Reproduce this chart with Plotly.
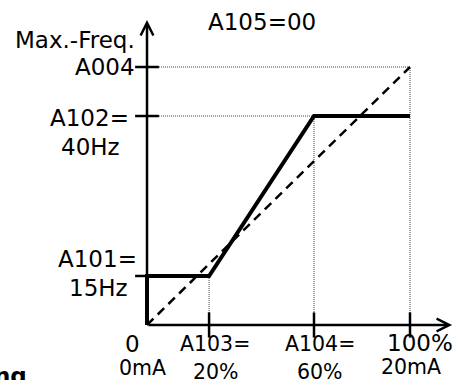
import plotly.graph_objects as go

FONT = "DejaVu Sans"
INK = "black"
BIG = 23
SMALL = 20.5

# positions as drawn on the sketch (input in % of span, frequency in % of A004)
input_pos = [0, 23.6, 63.5, 100]          # 0, A103, A104, 100 %
freq_pos = [19, 81, 100]                  # A101, A102, A004
output_x = [0, 0, 23.6, 63.5, 100]        # characteristic with A105=00
output_y = [0, 19, 19, 81, 81]
linear_x = [0, 100]
linear_y = [0, 100]
axis_end_x = 116
axis_end_y = 118.2

# pixel geometry of the diagram
W, H = 456, 380
X0_PX, X100_PX = 147, 410
Y0_PX, Y100_PX = 325, 67
sx = (X100_PX - X0_PX) / 100
sy = (Y0_PX - Y100_PX) / 100

fig = go.Figure()

# dotted guide lines: A004 box, A102 corner, A103 drop
gx = [input_pos[0], input_pos[3], input_pos[3], None,
      input_pos[0], input_pos[2], input_pos[2], None,
      input_pos[1], input_pos[1]]
gy = [freq_pos[2], freq_pos[2], 0, None,
      freq_pos[1], freq_pos[1], 0, None,
      freq_pos[0], 0]
fig.add_trace(go.Scatter(x=gx, y=gy, mode="lines", hoverinfo="skip",
                         line=dict(color="#444", width=1, dash="1px,1px")))

fig.add_trace(go.Scatter(x=linear_x, y=linear_y, mode="lines",
                         line=dict(color=INK, width=2.5, dash="9px,6px")))
fig.add_trace(go.Scatter(x=output_x, y=output_y, mode="lines",
                         line=dict(color=INK, width=4)))

# tick marks
fig.add_trace(go.Scatter(x=[0] * len(freq_pos), y=freq_pos, mode="markers",
                         marker=dict(symbol="line-ew", size=17, line=dict(color=INK, width=2.5))))
fig.add_trace(go.Scatter(x=input_pos[1:], y=[0] * 3, mode="markers",
                         marker=dict(symbol="line-ns", size=18, line=dict(color=INK, width=2.5))))

# axes with open arrow heads
for tip, tail in [((axis_end_x, 0), (0, 0)), ((0, axis_end_y), (0, 0))]:
    fig.add_annotation(x=tip[0], y=tip[1], ax=tail[0], ay=tail[1], axref="x", ayref="y",
                       text="", showarrow=True, arrowhead=5, arrowsize=1, arrowwidth=2.5,
                       arrowcolor=INK)


def label(text, x, y, dx, dy, size=BIG, anchor="center"):
    fig.add_annotation(x=x, y=y, text=text, showarrow=False, xanchor=anchor, yanchor="middle",
                       xshift=dx, yshift=dy, font=dict(family=FONT, size=size, color=INK))


label("Max.-Freq.", 0, 100, -10, 27, anchor="right")
label("A004", 0, 100, -10, 0, anchor="right")
label("A102=", 0, 81, -58, -2)
label("40Hz", 0, 81, -57, -31)
label("A101=", 0, 19, -50, 17)
label("15Hz", 0, 19, -49, -12)
label("0", 0, 0, -15, -19, size=BIG)
label("0mA", 0, 0, -5, -43, size=SMALL)
label("A103=", input_pos[1], 0, 6, -19, size=SMALL)
label("20%", input_pos[1], 0, 7, -47, size=SMALL)
label("A104=", input_pos[2], 0, 6, -19, size=SMALL)
label("60%", input_pos[2], 0, 6, -47, size=SMALL)
label("100%", input_pos[3], 0, 10, -18, size=BIG)
label("20mA", input_pos[3], 0, 1, -42, size=SMALL)

fig.add_annotation(x=262 / W, y=1 - 22 / H, xref="paper", yref="paper", text="A105=00",
                   showarrow=False, xanchor="center", yanchor="middle",
                   font=dict(family=FONT, size=BIG, color=INK))
# fragment of the heading that sits below the diagram
fig.add_annotation(x=0, y=1 - 361 / H, xref="paper", yref="paper", text="<b>ng</b>",
                   showarrow=False, xanchor="left", yanchor="top", xshift=-8,
                   font=dict(family=FONT, size=23, color=INK))

fig.update_layout(
    width=W, height=H, margin=dict(l=0, r=0, t=0, b=0),
    paper_bgcolor="white", plot_bgcolor="white", showlegend=False,
)
fig.update_xaxes(range=[-X0_PX / sx, (W - X0_PX) / sx], visible=False)
fig.update_yaxes(range=[-(H - Y0_PX) / sy, Y0_PX / sy], visible=False)

fig.write_html("out.html", config={"displayModeBar": False},
               post_script="document.body.style.margin='0px';")
